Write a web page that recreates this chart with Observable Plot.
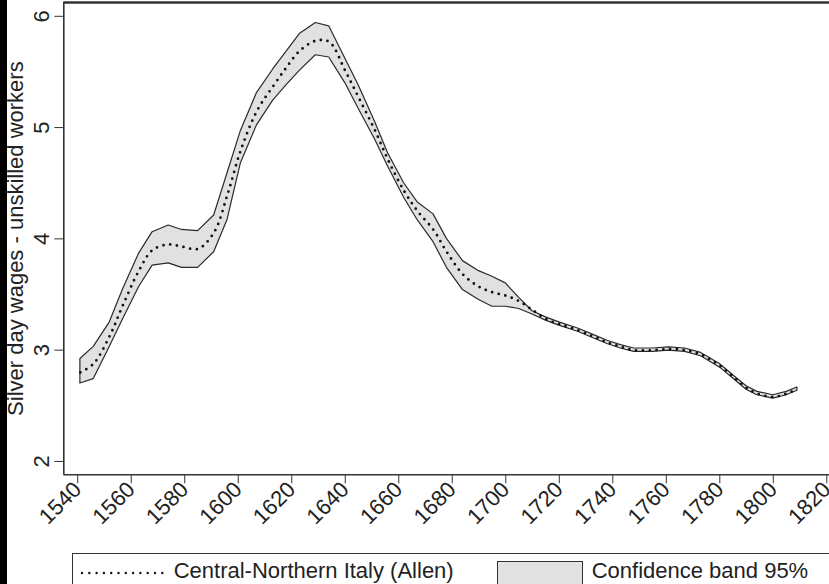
<!DOCTYPE html>
<html>
<head>
<meta charset="utf-8">
<script src="https://cdn.jsdelivr.net/npm/d3@7"></script>
<script src="https://cdn.jsdelivr.net/npm/@observablehq/plot@0.6"></script>
<style>
  html, body { margin: 0; padding: 0; background: #fff; overflow: hidden; }
  #wrap { position: absolute; left: 0; top: 0; width: 829px; height: 584px; background: #fff; overflow: hidden; }
  #strip { position: absolute; left: 0; top: 0; width: 7px; height: 584px; background: #000; }
  #chart { position: absolute; left: 0; top: 0; }
  #legend { position: absolute; left: 71.7px; top: 553px; width: 820px; height: 60px; border: 1.3px solid #333; box-sizing: border-box;
            font-family: 'Liberation Sans', Arial, sans-serif; font-size: 22px; line-height: 22px; color: #222; }
  .lg-text { position: absolute; top: 6px; white-space: nowrap; }
  #swatch { position: absolute; left: 424px; top: 7px; width: 86px; height: 40px; background: #e1e1e1; border: 1.2px solid #333; box-sizing: border-box; }
  #sample { position: absolute; left: 6px; top: 14.5px; }
</style>
</head>
<body>
<div id="wrap">
  <div id="strip"></div>
  <div id="chart"></div>
  <div id="legend">
    <svg id="sample" width="90" height="8"><line x1="3" y1="4" x2="86" y2="4" stroke="#111" stroke-width="2.4" stroke-dasharray="0,7.3" stroke-linecap="round"/></svg>
    <span class="lg-text" style="left:101px">Central-Northern Italy (Allen)</span>
    <div id="swatch"></div>
    <span class="lg-text" style="left:519px">Confidence band 95%</span>
  </div>
</div>
<script>
const years = [1541,1546,1552,1557,1563,1568,1574,1579,1585,1591,1596,1601,1607,1613,1618,1623,1629,1634,1640,1645,
               1651,1656,1662,1667,1673,1678,1684,1690,1695,1700,1705,1710,1715,1720,1727,1733,1738,1743,1748,1755,
               1761,1767,1773,1780,1786,1790,1794,1800,1805,1809];
const wageMid = [2.80,2.88,3.13,3.41,3.72,3.90,3.95,3.93,3.91,4.06,4.40,4.80,5.15,5.37,5.54,5.69,5.78,5.77,5.51,5.27,
                 4.98,4.71,4.43,4.25,4.08,3.88,3.68,3.57,3.52,3.49,3.44,3.36,3.28,3.235,3.18,3.12,3.07,3.03,3.00,3.00,
                 3.01,3.00,2.96,2.86,2.74,2.66,2.61,2.58,2.61,2.65];
const bandHi = [2.92,3.03,3.25,3.55,3.87,4.06,4.12,4.08,4.07,4.21,4.59,4.97,5.31,5.52,5.68,5.84,5.94,5.91,5.62,5.38,
                5.06,4.77,4.50,4.33,4.22,4.00,3.80,3.71,3.66,3.60,3.47,3.35,3.295,3.25,3.195,3.135,3.085,3.045,3.015,3.015,
                3.025,3.015,2.975,2.875,2.755,2.675,2.625,2.595,2.625,2.665];
const bandLo = [2.70,2.74,3.03,3.28,3.57,3.76,3.78,3.74,3.74,3.88,4.17,4.68,5.02,5.24,5.38,5.51,5.65,5.63,5.40,5.17,
                4.90,4.65,4.37,4.17,3.97,3.74,3.54,3.45,3.39,3.39,3.37,3.32,3.265,3.22,3.165,3.105,3.055,3.015,2.985,2.985,
                2.995,2.985,2.945,2.845,2.725,2.645,2.595,2.565,2.595,2.635];
const xTicks = [1540,1560,1580,1600,1620,1640,1660,1680,1700,1720,1740,1760,1780,1800,1820];
const yTicks = [2,3,4,5,6];
const xDomain = [1534.8, 1821];
const yDomain = [1.88, 6.124];
const yLabel = "Silver day wages - unskilled workers";

const rows = years.map((year, i) => ({year, mid: wageMid[i], hi: bandHi[i], lo: bandLo[i]}));

const chart = Plot.plot({
  width: 829,
  height: 548,
  marginLeft: 63.3,
  marginRight: 0,
  marginTop: 2,
  marginBottom: 73.7,
  x: {domain: xDomain},
  y: {domain: yDomain},
  style: {fontFamily: "'Liberation Sans', Arial, sans-serif", fontSize: "22px", color: "#222", background: "transparent", overflow: "visible"},
  marks: [
    Plot.areaY(rows, {x: "year", y1: "lo", y2: "hi", fill: "#e1e1e1", stroke: "#2a2a2a", strokeWidth: 1.2}),
    Plot.lineY(rows, {x: "year", y: "mid", stroke: "#111", strokeWidth: 2.8, strokeDasharray: "0,6.8", strokeLinecap: "round", curve: "catmull-rom"}),
    Plot.ruleX([xDomain[0]], {stroke: "#333", strokeWidth: 1.6}),
    Plot.ruleY([yDomain[0]], {stroke: "#333", strokeWidth: 1.6}),
    Plot.ruleY([yDomain[1]], {stroke: "#333", strokeWidth: 2.5}),
    Plot.axisX({ticks: xTicks, tickFormat: "d", tickSize: 9, tickRotate: -45, fontSize: 22, tickPadding: 2, stroke: "#333", label: null}),
    Plot.axisY({ticks: yTicks, tickFormat: "d", tickSize: 9, tickRotate: -90, fontSize: 22, tickPadding: 6, dx: 0, stroke: "#333", label: null}),
    Plot.text([yLabel], {frameAnchor: "left", rotate: -90, dx: -48.3, lineAnchor: "middle", textAnchor: "middle", fontSize: 22, fill: "#222"})
  ]
});
document.getElementById("chart").appendChild(chart);
</script>
</body>
</html>
